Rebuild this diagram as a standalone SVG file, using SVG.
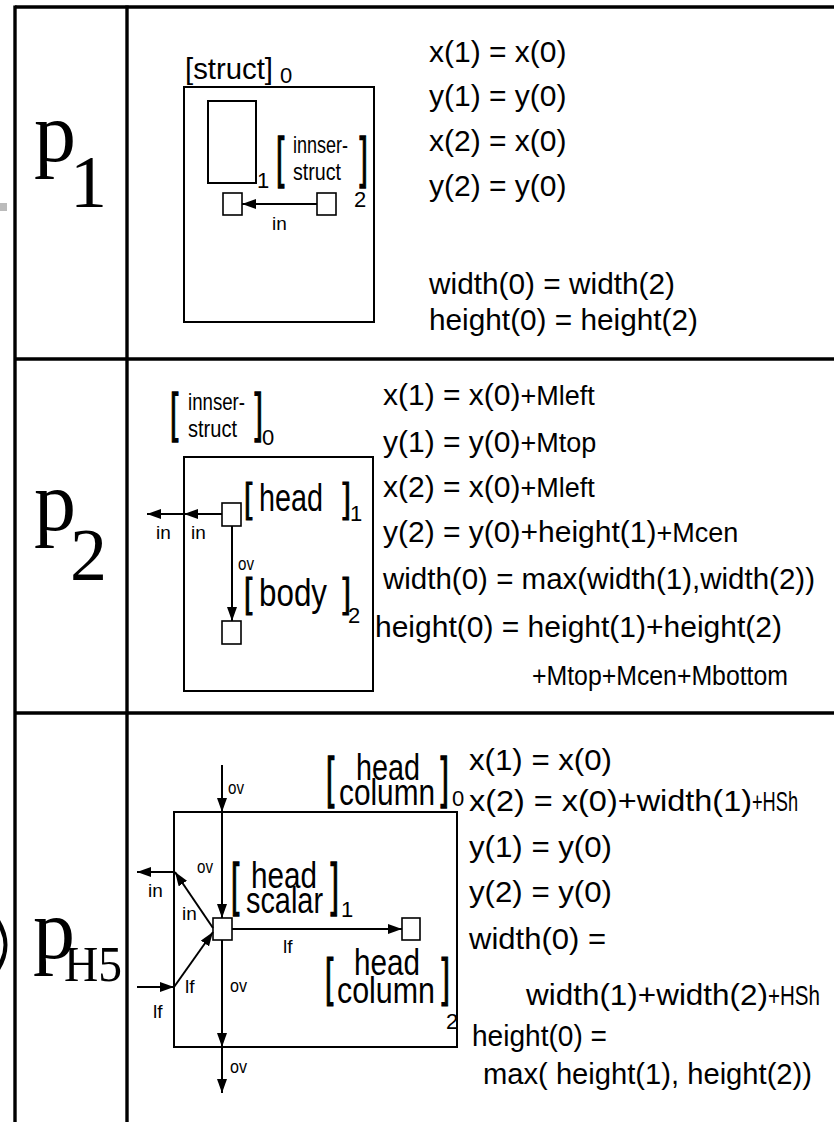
<svg xmlns="http://www.w3.org/2000/svg" width="834" height="1122" viewBox="0 0 834 1122">
<style>
text{font-family:"Liberation Sans",Arial,sans-serif;fill:#000}
.eq{font-size:30px}
.mv{font-size:27px}
.sm{font-size:24px}
.lab{font-size:19px}
.sub{font-size:22px}
.pl{font-family:"Liberation Serif","Times New Roman",serif}
.box{fill:none;stroke:#000;stroke-width:2}
.sq{fill:#fff;stroke:#000;stroke-width:1.6}
.tab{stroke:#000;stroke-width:3.4;fill:none}
.cn{stroke:#000;stroke-width:2;fill:none;marker-end:url(#ah)}
.br{font-size:30px;stroke:#000;stroke-width:0.7}
</style>
<defs>
<marker id="ah" viewBox="0 0 14 10" refX="14" refY="5" markerWidth="14" markerHeight="10" markerUnits="userSpaceOnUse" orient="auto"><path d="M0,0 L14,5 L0,10 z" fill="#000"/></marker>
</defs>
<rect width="834" height="1122" fill="#fff"/>

<g id="table">
<line class="tab" x1="15" y1="7" x2="834" y2="7"/>
<line class="tab" x1="15" y1="359" x2="834" y2="359"/>
<line class="tab" x1="15" y1="713" x2="834" y2="713"/>
<line class="tab" x1="15" y1="5.5" x2="15" y2="1122"/>
<line class="tab" x1="127" y1="5.5" x2="127" y2="1122"/>
<rect x="0" y="203" width="7" height="8" fill="#bbb"/>
<path d="M0,920 Q15,945 0,970 L0,960 Q7,945 0,930 z" fill="#000"/>
</g>

<g id="label-p1">
<text class="pl" x="34" y="161" font-size="84">p</text>
<text class="pl" x="70" y="207" font-size="74">1</text>
</g>
<g id="label-p2">
<text class="pl" x="34" y="530" font-size="84">p</text>
<text class="pl" x="70" y="580" font-size="74">2</text>
</g>
<g id="label-pH5">
<text class="pl" x="33" y="958" font-size="84">p</text>
<text class="pl" x="64" y="981" font-size="50" textLength="58" lengthAdjust="spacingAndGlyphs">H5</text>
</g>

<!-- Row 1 -->
<g id="r1-struct">
<rect class="box" x="184" y="87" width="190" height="235"/>
<text class="eq" x="185" y="79" textLength="88" lengthAdjust="spacingAndGlyphs">[struct]</text>
<text class="sub" x="280" y="83">0</text>
</g>
<g id="r1-child1">
<rect class="box" x="208" y="101" width="48" height="82"/>
<text class="sub" x="257" y="188">1</text>
</g>
<g id="r1-child2">
<text class="br" transform="translate(276,137) scale(1,1.82)" x="0" y="21.5">[</text>
<text class="sm" x="293" y="153" textLength="55" lengthAdjust="spacingAndGlyphs">innser-</text>
<text class="sm" x="293" y="180" textLength="48" lengthAdjust="spacingAndGlyphs">struct</text>
<text class="br" transform="translate(359.5,137) scale(1,1.82)" x="0" y="21.5">]</text>
<text class="sub" x="354" y="207">2</text>
</g>
<g id="r1-sq1"><rect class="sq" x="223" y="193" width="19" height="22"/></g>
<g id="r1-sq2"><rect class="sq" x="317" y="193" width="19" height="22"/></g>

<!-- Row 1 equations -->
<g id="r1-eqs">
<text class="eq" x="429" y="62">x(1) = x(0)</text>
<text class="eq" x="429" y="106">y(1) = y(0)</text>
<text class="eq" x="429" y="151">x(2) = x(0)</text>
<text class="eq" x="429" y="196">y(2) = y(0)</text>
<text class="eq" x="429" y="294" textLength="246" lengthAdjust="spacingAndGlyphs">width(0) = width(2)</text>
<text class="eq" x="429" y="330" textLength="269" lengthAdjust="spacingAndGlyphs">height(0) = height(2)</text>
</g>

<!-- Row 2 -->
<g id="r2-innser">
<rect class="box" x="184" y="457" width="189" height="234"/>
<text class="br" transform="translate(170,393) scale(1,1.79)" x="0" y="21.5">[</text>
<text class="sm" x="188" y="410" textLength="57" lengthAdjust="spacingAndGlyphs">innser-</text>
<text class="sm" x="188" y="437" textLength="49" lengthAdjust="spacingAndGlyphs">struct</text>
<text class="br" transform="translate(254.5,393) scale(1,1.79)" x="0" y="21.5">]</text>
<text class="sub" x="262" y="445">0</text>
</g>
<g id="r2-head">
<rect class="sq" x="222" y="503" width="19" height="23"/>
<text class="br" transform="translate(244,483) scale(1,1.35)" x="0" y="21.5">[</text>
<text x="259" y="511" font-size="38" textLength="64" lengthAdjust="spacingAndGlyphs">head</text>
<text class="br" transform="translate(342.5,483) scale(1,1.35)" x="0" y="21.5">]</text>
<text class="sub" x="350" y="521">1</text>
</g>
<g id="r2-body">
<rect class="sq" x="222" y="621" width="19" height="23"/>
<text class="br" transform="translate(244,578) scale(1,1.35)" x="0" y="21.5">[</text>
<text x="259" y="606" font-size="38" textLength="68" lengthAdjust="spacingAndGlyphs">body</text>
<text class="br" transform="translate(342.5,578) scale(1,1.35)" x="0" y="21.5">]</text>
<text class="sub" x="348" y="623">2</text>
</g>

<g id="r2-eqs">
<text class="eq" x="383" y="405">x(1) = x(0)<tspan class="mv">+Mleft</tspan></text>
<text class="eq" x="383" y="452">y(1) = y(0)<tspan class="mv">+Mtop</tspan></text>
<text class="eq" x="383" y="497">x(2) = x(0)<tspan class="mv">+Mleft</tspan></text>
<text class="eq" x="383" y="542">y(2) = y(0)+height(1)<tspan class="mv">+Mcen</tspan></text>
<text class="eq" x="383" y="589" textLength="432" lengthAdjust="spacingAndGlyphs">width(0) = max(width(1),width(2))</text>
<text class="eq" x="375" y="637">height(0) = height(1)+height(2)</text>
<text class="mv" x="532" y="685" textLength="256" lengthAdjust="spacingAndGlyphs">+Mtop+Mcen+Mbottom</text>
</g>

<!-- Row 3 -->
<g id="r3-column0">
<rect class="box" x="174" y="812" width="283" height="235"/>
<text class="br" transform="translate(326,757) scale(1,1.82)" x="0" y="21.5">[</text>
<text x="356" y="780" font-size="37" textLength="64" lengthAdjust="spacingAndGlyphs">head</text>
<text x="339" y="805" font-size="37" textLength="96" lengthAdjust="spacingAndGlyphs">column</text>
<text class="br" transform="translate(440.5,757) scale(1,1.82)" x="0" y="21.5">]</text>
<text class="sub" x="452" y="806">0</text>
</g>
<g id="r3-scalar1">
<rect class="sq" x="213" y="918" width="19" height="22"/>
<text class="br" transform="translate(231,863) scale(1,1.9)" x="0" y="21.5">[</text>
<text x="251" y="888" font-size="37" textLength="66" lengthAdjust="spacingAndGlyphs">head</text>
<text x="246" y="913" font-size="37" textLength="77" lengthAdjust="spacingAndGlyphs">scalar</text>
<text class="br" transform="translate(330.5,863) scale(1,1.9)" x="0" y="21.5">]</text>
<text class="sub" x="341" y="917">1</text>
</g>
<g id="r3-column2">
<rect class="sq" x="402" y="918" width="18" height="22"/>
<text class="br" transform="translate(325,957) scale(1,1.75)" x="0" y="21.5">[</text>
<text x="354" y="975" font-size="37" textLength="66" lengthAdjust="spacingAndGlyphs">head</text>
<text x="337" y="1003" font-size="37" textLength="98" lengthAdjust="spacingAndGlyphs">column</text>
<text class="br" transform="translate(441.5,957) scale(1,1.75)" x="0" y="21.5">]</text>
<text class="sub" x="446" y="1029">2</text>
</g>

<g id="r3-eqs">
<text class="eq" x="469" y="770" textLength="143" lengthAdjust="spacingAndGlyphs">x(1) = x(0)</text>
<text class="eq" x="469" y="811"><tspan textLength="283" lengthAdjust="spacingAndGlyphs">x(2) = x(0)+width(1)</tspan><tspan class="mv" textLength="46" lengthAdjust="spacingAndGlyphs">+HSh</tspan></text>
<text class="eq" x="469" y="857" textLength="143" lengthAdjust="spacingAndGlyphs">y(1) = y(0)</text>
<text class="eq" x="469" y="902" textLength="143" lengthAdjust="spacingAndGlyphs">y(2) = y(0)</text>
<text class="eq" x="469" y="949" textLength="137" lengthAdjust="spacingAndGlyphs">width(0) =</text>
<text class="eq" x="526" y="1005"><tspan textLength="242" lengthAdjust="spacingAndGlyphs">width(1)+width(2)</tspan><tspan class="mv" textLength="52" lengthAdjust="spacingAndGlyphs">+HSh</tspan></text>
<text class="eq" x="472" y="1046" textLength="135" lengthAdjust="spacingAndGlyphs">height(0) =</text>
<text class="eq" x="483" y="1084" textLength="329" lengthAdjust="spacingAndGlyphs">max( height(1), height(2))</text>
</g>

<g id="connectors">
<line class="cn" x1="317" y1="204" x2="242" y2="204"/>
<line class="cn" x1="222" y1="514" x2="184" y2="514"/>
<line class="cn" x1="184" y1="514" x2="147" y2="514"/>
<line class="cn" x1="232" y1="526" x2="232" y2="621"/>
<line class="cn" x1="222" y1="765" x2="222" y2="812"/>
<line class="cn" x1="222" y1="812" x2="222" y2="918"/>
<line class="cn" x1="232" y1="929" x2="402" y2="929"/>
<line class="cn" x1="222" y1="940" x2="222" y2="1047"/>
<line class="cn" x1="222" y1="1047" x2="222" y2="1093"/>
<line class="cn" x1="213" y1="928" x2="175" y2="872"/>
<line class="cn" x1="175" y1="872" x2="137" y2="872"/>
<line class="cn" x1="137" y1="987" x2="174" y2="987"/>
<line class="cn" x1="174" y1="987" x2="213" y2="932"/>
</g>

<g id="connector-labels">
<text class="lab" x="272" y="230">in</text>
<text class="lab" x="156" y="539">in</text>
<text class="lab" x="191" y="539">in</text>
<text class="lab" x="238" y="570" textLength="16" lengthAdjust="spacingAndGlyphs">ov</text>
<text class="lab" x="228" y="794" textLength="16" lengthAdjust="spacingAndGlyphs">ov</text>
<text class="lab" x="197" y="873" textLength="16" lengthAdjust="spacingAndGlyphs">ov</text>
<text class="lab" x="230" y="992" textLength="17" lengthAdjust="spacingAndGlyphs">ov</text>
<text class="lab" x="230" y="1073" textLength="17" lengthAdjust="spacingAndGlyphs">ov</text>
<text class="lab" x="148" y="897">in</text>
<text class="lab" x="182" y="920">in</text>
<text class="lab" x="153" y="1018">lf</text>
<text class="lab" x="185" y="993">lf</text>
<text class="lab" x="283" y="953">lf</text>
</g>
</svg>
